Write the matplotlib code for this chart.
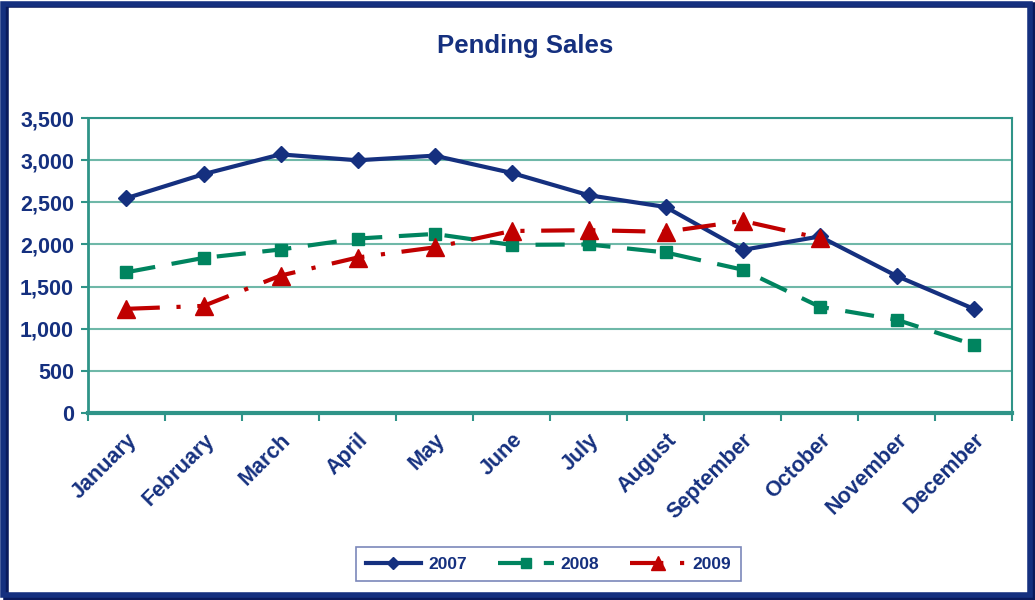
import matplotlib.pyplot as plt
from matplotlib.patches import Rectangle
from matplotlib.ticker import FuncFormatter

months = ['January', 'February', 'March', 'April', 'May', 'June', 'July',
          'August', 'September', 'October', 'November', 'December']
sales_2007 = [2550, 2835, 3070, 3000, 3055, 2850, 2585, 2445, 1935, 2095, 1625, 1235]
sales_2008 = [1670, 1840, 1940, 2070, 2125, 1995, 2000, 1905, 1700, 1260, 1105, 810]
sales_2009 = [1235, 1270, 1630, 1845, 1965, 2160, 2170, 2150, 2280, 2075]

navy = '#15307f'
green = '#00845f'
red = '#c00000'
teal = '#2f9488'

plt.rcParams['font.family'] = ['Liberation Sans', 'DejaVu Sans']
plt.rcParams['font.weight'] = 'bold'

fig = plt.figure(figsize=(10.35, 6), dpi=100)
ax = fig.add_axes([0.085, 0.312, 0.893, 0.491])

x = list(range(len(months)))
ax.plot(x, sales_2007, color=navy, lw=3, marker='D', ms=8, label='2007')
ax.plot(x, sales_2008, color=green, lw=3, marker='s', ms=9,
        dashes=(7, 4), label='2008')
ax.plot(x[:len(sales_2009)], sales_2009, color=red, lw=3, marker='^', ms=13,
        dashes=(8, 4, 1, 4), label='2009')

ax.set_xlim(-0.5, 11.5)
ax.set_ylim(0, 3500)
ax.set_yticks(range(0, 3501, 500))
ax.yaxis.set_major_formatter(FuncFormatter(lambda v, p: f'{int(v):,}'))
ax.grid(axis='y', color='#6fb8a8', lw=1.5)
ax.set_axisbelow(True)

ax.set_xticks(x)
ax.set_xticklabels(months, rotation=45, ha='right', rotation_mode='anchor')
ax.set_xticks([i - 0.5 for i in range(13)], minor=True)
ax.tick_params(axis='x', which='major', length=0, pad=12)
ax.tick_params(axis='x', which='minor', length=6, width=1.5, color=teal)
ax.tick_params(axis='y', length=5, width=1.5, color=teal, pad=5)
ax.tick_params(labelsize=15.5, labelcolor=navy)

for s in ax.spines.values():
    s.set_color(teal)
    s.set_linewidth(1.5)
ax.spines['bottom'].set_linewidth(3)
ax.spines['left'].set_linewidth(2)

fig.text(0.507, 0.923, 'Pending Sales', ha='center', va='center',
         fontsize=18.5, fontweight='bold', color=navy)

leg = fig.legend(loc='center', bbox_to_anchor=(0.53, 0.06), ncol=3,
                 fontsize=12.5, frameon=True, fancybox=False, handlelength=3.2,
                 handletextpad=0.4, columnspacing=1.8, borderpad=0.55,
                 markerscale=0.75, borderaxespad=0)
leg.get_frame().set_edgecolor('#5a6aa8')
leg.get_frame().set_linewidth(1.2)
for t in leg.get_texts():
    t.set_color(navy)

# outer frame with shadow
fig.patches.append(Rectangle((0.006, 0.003), 0.992, 0.988, transform=fig.transFigure,
                             fill=False, edgecolor='#0a1a5c', lw=4, zorder=0))
fig.patches.append(Rectangle((0.003, 0.008), 0.992, 0.985, transform=fig.transFigure,
                             fill=False, edgecolor=navy, lw=4, zorder=1))

fig.savefig('out.png', dpi=100)
